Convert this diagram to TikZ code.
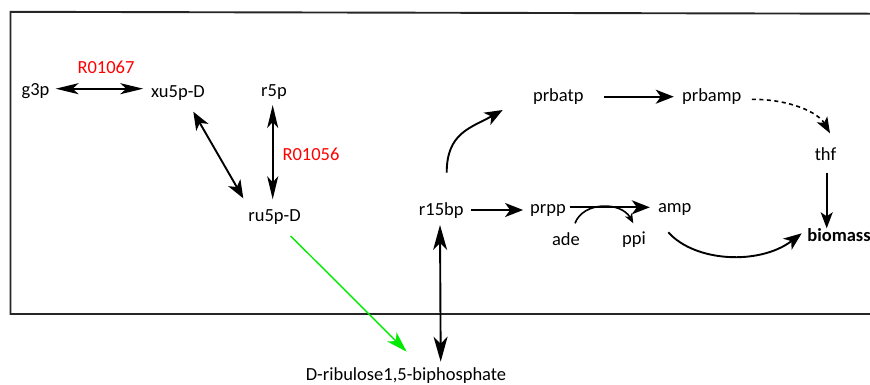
\documentclass[tikz,border=0pt]{standalone}
\usepackage{fontspec}
\setmainfont{Carlito}
\usepackage{tikz}
\usetikzlibrary{arrows.meta}
\definecolor{fluxgreen}{RGB}{0,235,0}
\tikzset{
  head/.tip={Stealth[length=18pt,width=14pt,inset=5pt]},
  longhead/.tip={Stealth[length=23pt,width=11pt,inset=6pt]},
  smallhead/.tip={Stealth[length=10pt,width=8pt,inset=3pt]}
}
\tikzstyle{met} = [inner sep=0pt, anchor=base, font=\fontsize{18.5}{22}\selectfont]
\tikzstyle{enz} = [met, text=red]
\tikzstyle{arrow} = [line width=1.9pt, -head]
\tikzstyle{revarrow} = [line width=1.9pt, head-head]
\tikzstyle{longrev} = [line width=1.9pt, longhead-longhead]

\begin{document}
\begin{tikzpicture}[x=1pt,y=-1pt]
\useasboundingbox (0,0) rectangle (870,384);
% compartment
\draw[line width=1.9pt,black!85] (870,13.7) -- (10.5,11.8) -- (10.5,314) -- (870,314);

% metabolites
\node[met] (g3p) at (35.5,95) {g3p};
\node[met] (xu5p) at (178,97.5) {xu5p-D};
\node[met] (r5p) at (274,96) {r5p};
\node[met] (ru5p) at (274.5,221) {ru5p-D};
\node[met] (r15bp) at (441.3,215) {r15bp};
\node[met] (prpp) at (548,213) {prpp};
\node[met] (amp) at (674.7,212) {amp};
\node[met] (ade) at (566,245) {ade};
\node[met] (ppi) at (634,244) {ppi};
\node[met] (prbatp) at (558.3,101) {prbatp};
\node[met] (prbamp) at (711.7,101) {prbamp};
\node[met] (thf) at (825.5,160) {thf};
\node[met,font=\fontsize{18.5}{22}\selectfont\bfseries] (biomass) at (839,241) {biomass};
\node[met] (drib) at (406,380) {D-ribulose1,5-biphosphate};

% reactions
\node[enz] (R01067) at (106,73) {R01067};
\node[enz] (R01056) at (311,160) {R01056};

\draw[longrev] ([xshift=6pt,yshift=6.3pt]g3p.base east) -- ([xshift=-7.7pt,yshift=8.8pt]xu5p.base west);
\draw[revarrow] ([xshift=15.3pt,yshift=-14.2pt]xu5p.base) -- ([xshift=-31.2pt,yshift=22.7pt]ru5p.base);
\draw[longrev] ([xshift=-1.3pt,yshift=-9pt]r5p.base) -- ([xshift=-1.8pt,yshift=21.7pt]ru5p.base);
\draw[line width=1.4pt,fluxgreen,-{Stealth[length=21pt,width=13pt,inset=6pt]}] ([xshift=16.2pt,yshift=-15pt]ru5p.base) -- ([xshift=0.7pt,yshift=28.3pt]drib.base);
\draw[line width=1.9pt,{Stealth[length=25pt,width=14pt,inset=7pt]}-{Stealth[length=25pt,width=14pt,inset=7pt]}] ([xshift=-1.3pt,yshift=-10pt]r15bp.base) -- ([xshift=34.7pt,yshift=18.3pt]drib.base);

\draw[arrow] ([xshift=7.4pt,yshift=5pt]r15bp.base east) -- ([xshift=-6.9pt,yshift=3pt]prpp.base west);
\draw[arrow] ([xshift=3.5pt,yshift=5.7pt]prpp.base east) -- ([xshift=-8pt,yshift=4.7pt]amp.base west);
\draw[line width=1.6pt,-smallhead] ([xshift=9pt,yshift=21.7pt]ade.base) .. controls +(8,-22) and +(-12,-22) .. ([xshift=-0.7pt,yshift=20.7pt]ppi.base);
\draw[arrow] ([xshift=5.4pt,yshift=42.3pt]r15bp.base) .. controls +(0,-40) and +(-32,18) .. ([xshift=-55.6pt,yshift=-9pt]prbatp.base);
\draw[arrow] ([xshift=20.4pt,yshift=4.3pt]prbatp.base east) -- ([xshift=-8.1pt,yshift=4.3pt]prbamp.base west);
\draw[line width=1.6pt,dash pattern=on 4pt off 3.5pt,-{Stealth[length=16pt,width=12pt,inset=4pt]}] ([xshift=10.4pt,yshift=1.7pt]prbamp.base east) .. controls +(38,0) and +(-12,-21) .. ([xshift=4.5pt,yshift=26.7pt]thf.base);
\draw[line width=1.9pt,-{Stealth[length=16pt,width=12pt,inset=4pt]}] ([xshift=1.2pt,yshift=-13.3pt]thf.base) -- ([xshift=-12.3pt,yshift=12.7pt]biomass.base);
\draw[arrow] ([xshift=-6.4pt,yshift=-20.3pt]amp.base) .. controls +(27,30) and +(-42,32) .. ([xshift=-37.3pt,yshift=7.7pt]biomass.base);
\end{tikzpicture}
\end{document}
